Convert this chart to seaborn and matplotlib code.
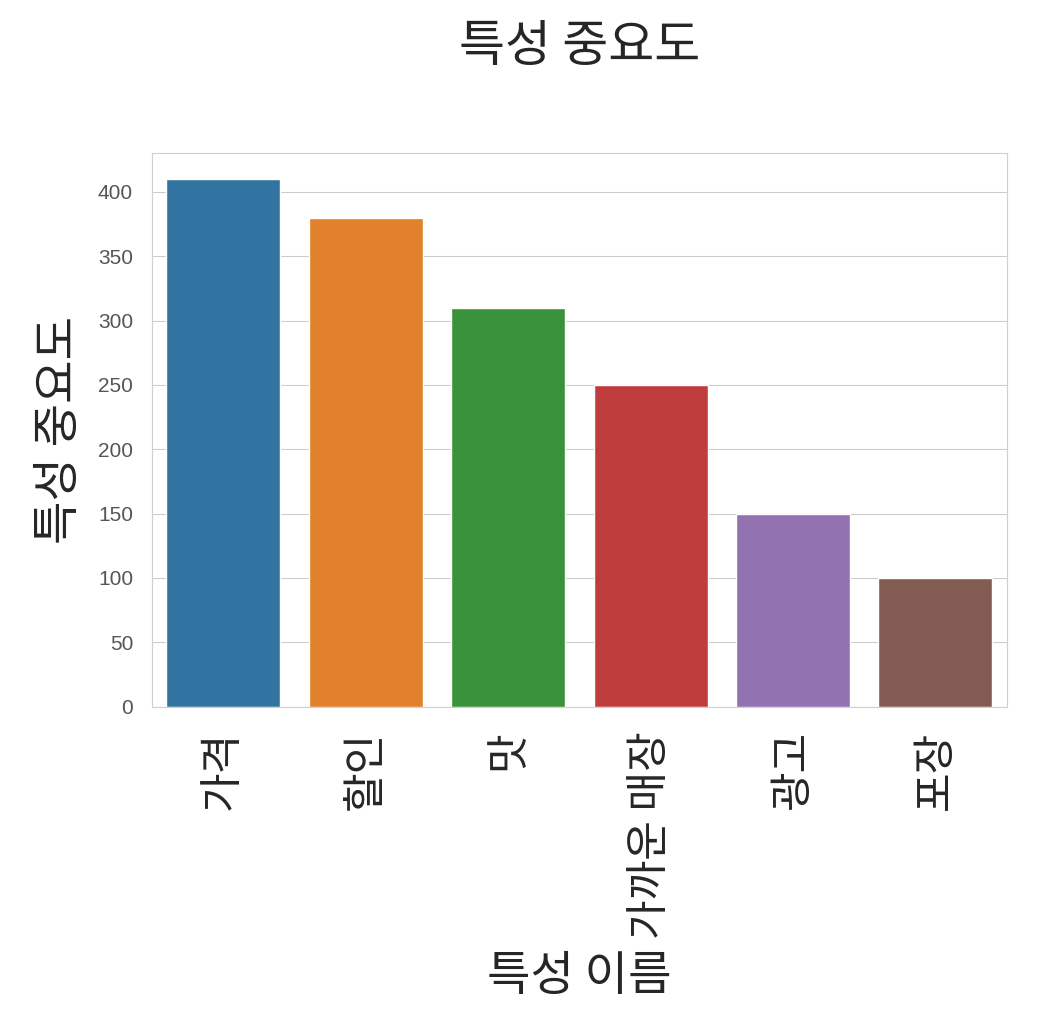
import pandas as pd
import matplotlib
matplotlib.use("Agg")
import matplotlib.pyplot as plt
import seaborn as sns

features = ["가격", "할인", "맛", "가까운 매장", "광고", "포장"]
importance = [410, 380, 310, 250, 150, 100]

df = pd.DataFrame({"feature": features, "importance": importance})

sns.set_style("whitegrid")
plt.rcParams["font.family"] = ["Noto Sans CJK KR", "DejaVu Sans"]

fig = plt.figure(figsize=(10.4, 10.24), dpi=100)
ax = fig.add_axes([0.146, 0.310, 0.822, 0.541])

sns.barplot(data=df, x="feature", y="importance", hue="feature",
            palette="tab10", legend=False, ax=ax)

ax.set_title("특성 중요도", fontsize=36, pad=66)
ax.set_xlabel("특성 이름", fontsize=34, labelpad=10)
ax.set_ylabel("특성 중요도", fontsize=34, labelpad=10)
ax.tick_params(axis="x", labelsize=31, rotation=90, pad=14)
ax.tick_params(axis="y", labelsize=15, labelcolor="#555555", pad=10)
for lbl in ax.get_yticklabels():
    lbl.set_family(["Liberation Sans", "DejaVu Sans"])
for s in ax.spines.values():
    s.set_edgecolor("#d0d0d0")

fig.savefig("out.png", dpi=100)
